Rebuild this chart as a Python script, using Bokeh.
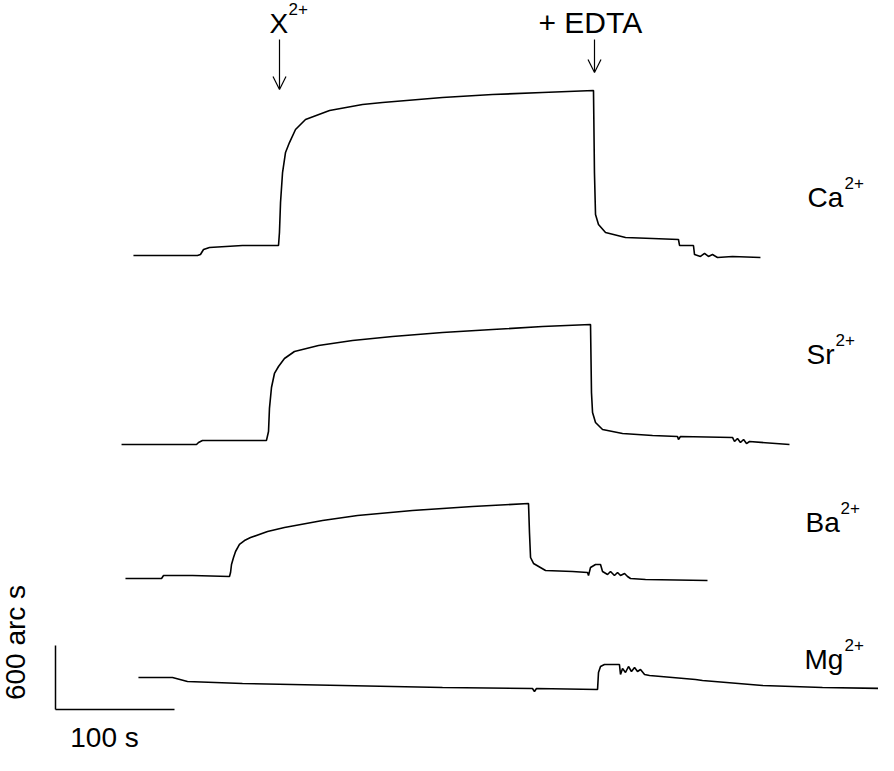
import math
from bokeh.plotting import figure
from bokeh.models import Range1d, Label, Arrow, OpenHead
from bokeh.embed import file_html
from bokeh.resources import INLINE

# ---- data: time (s) and signal (arc s, relative to each trace's own start level)
ca_t = [65.5,119.3,121.8,124.4,129.4,157.1,187.4,188.2,189.1,190.8,193.3,196.6,201.7,210.1,230.3,258.0,274.8,325.2,367.2,409.2,452.1,452.9,453.8,456.3,462.2,479.0,501.7,523.5,524.4,536.1,537.0,542.0,545.4,548.7,552.1,556.3,568.9,592.4]
ca_a = [0,0,9,56,75,94,94,216,497,778,966,1059,1181,1275,1359,1416,1434,1481,1509,1528,1547,778,384,291,216,169,159,150,94,94,9,-9,19,-9,9,-19,-9,-19]

sr_t = [55.5,118.5,120.2,123.5,177.3,179.0,179.8,181.5,184.0,187.4,192.4,200.8,221.0,249.6,283.2,325.2,367.2,409.2,449.6,450.4,451.3,453.8,459.7,476.5,501.7,522.7,523.5,525.2,568.9,570.6,573.1,575.6,578.2,580.7,583.2,616.8]
sr_a = [0,0,19,38,38,122,338,534,666,731,806,872,928,975,1013,1050,1078,1106,1125,488,300,206,141,103,84,75,47,75,66,28,56,19,47,9,28,0]

ba_t = [58.8,89.1,90.8,115.1,146.2,147.1,147.9,149.6,151.3,154.6,158.8,163.9,178.2,192.4,224.4,253.8,300.0,350.4,397.5,398.3,399.2,401.7,411.8,434.5,447.1,447.9,449.6,453.8,458.0,459.7,463.9,466.4,469.7,472.3,474.8,478.2,480.7,483.2,495.8,547.9]
ba_a = [0,0,28,28,19,56,131,197,253,319,356,384,441,478,544,591,638,675,703,431,197,141,75,66,56,28,103,131,131,66,38,66,28,56,28,47,19,0,-9,-19]

mg_t = [69.7,98.3,110.9,157.1,241.2,325.2,400.8,402.5,404.2,455.5,456.3,458.0,461.3,473.9,474.8,476.5,479.0,481.5,484.0,486.6,489.1,491.6,495.0,499.2,537.8,543.7,594.1,644.5,695.0]
mg_a = [0,0,-38,-56,-75,-94,-103,-131,-103,-113,47,103,122,122,28,84,47,103,56,94,56,75,28,19,-19,-28,-75,-94,-103]

ions = ["Ca", "Sr", "Ba", "Mg"]
charge = "2+"
scale_bar_s = 100      # s
scale_bar_arcs = 600   # arc s

# ---- layout constants (screen geometry)
W, H = 878, 755
PX_PER_S = 1.19
ARCS_PER_PX = 9.375
X0_PX, Y0_PX = 63, 717   # page pixel of scale-bar corner


def tx(px):
    return (px - X0_PX) / PX_PER_S


def ay(py):
    return (Y0_PX - py) * ARCS_PER_PX


stack_offset = {"Ca": ay(263), "Sr": ay(452), "Ba": ay(586), "Mg": ay(685)}

p = figure(width=W, height=H, output_backend="svg", toolbar_location=None,
           x_range=Range1d(tx(8), tx(8 + W)), y_range=Range1d(ay(8 + H), ay(8)),
           min_border=0, outline_line_color=None)
p.axis.visible = False
p.grid.visible = False
p.background_fill_color = "white"
p.border_fill_color = "white"

series = {"Ca": (ca_t, ca_a), "Sr": (sr_t, sr_a), "Ba": (ba_t, ba_a), "Mg": (mg_t, mg_a)}
for ion in ions:
    t, a = series[ion]
    p.line(t, [v + stack_offset[ion] for v in a], line_color="black", line_width=1.6)

# scale bar
p.line([0, 0], [0, scale_bar_arcs], line_color="black", line_width=1.5)
p.line([0, scale_bar_s], [0, 0], line_color="black", line_width=1.5)

FONT = "Liberation Sans"
BIG = 28
SMALL = 17


def lab(text, px, py, size=BIG, align="left", angle=0.0, baseline="alphabetic"):
    # py is the wanted alphabetic baseline on the page; correct for Bokeh's placement
    shift = 0.36 * size if baseline == "alphabetic" else 0
    p.add_layout(Label(x=tx(px), y=ay(py - shift), text=text, text_font=FONT,
                       text_font_size="%dpx" % size,
                       text_align=align, text_baseline=baseline, angle=angle,
                       text_color="black"))


lab("%d arc s" % scale_bar_arcs, 23, 650, align="center", angle=math.pi / 2, baseline="middle")
lab("%d s" % scale_bar_s, 112, 755, align="center")

label_pos = {"Ca": (815, 215), "Sr": (814, 372), "Ba": (813, 540), "Mg": (812, 677)}
sup_dx = {"Ca": 37, "Sr": 29, "Ba": 35, "Mg": 40}
for ion in ions:
    lx, ly = label_pos[ion]
    lab(ion, lx, ly)
    lab(charge, lx + sup_dx[ion], ly - 18, size=SMALL)

# top annotations
lab("X", 277, 41)
lab(charge, 296, 23, size=SMALL)
lab("+ EDTA", 546, 41, size=30)

for x_px, y1, y2 in [(287, 47, 97), (602, 47, 80)]:
    p.add_layout(Arrow(end=OpenHead(size=13, line_width=1.2, line_color="black"),
                       x_start=tx(x_px), y_start=ay(y1), x_end=tx(x_px), y_end=ay(y2),
                       line_width=1.2, line_color="black"))

open("out.html", "w").write(file_html(p, INLINE))
